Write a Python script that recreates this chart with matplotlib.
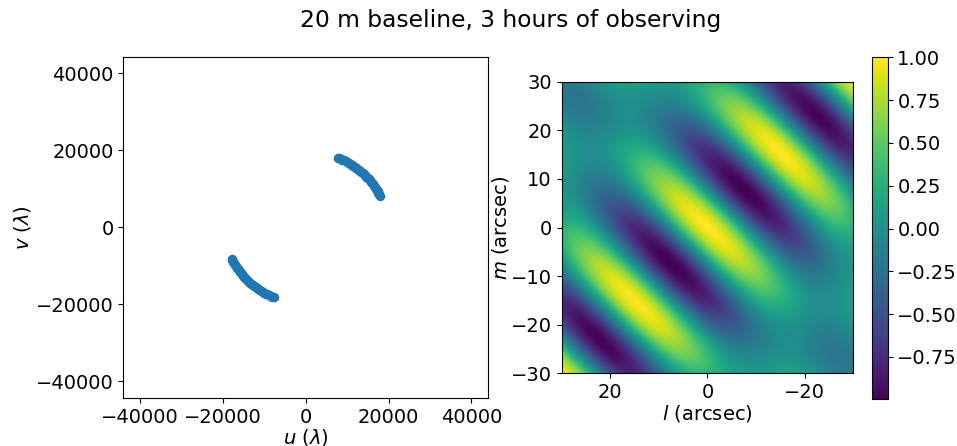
import numpy as np
import matplotlib
matplotlib.use("Agg")
import matplotlib.pyplot as plt

plt.rcParams['font.size'] = 14

# uv coverage (wavelengths)
u_upper = [7697, 8091, 8481, 8867, 9249, 9625, 9998, 10366, 10729, 11087, 11440, 11787,
           12129, 12464, 12793, 13118, 13435, 13747, 14052, 14349, 14639, 14925, 15201,
           15470, 15732, 15989, 16235, 16475, 16706, 16930, 17147, 17354, 17553, 17744, 17927]
v_upper = [18134, 17962, 17781, 17592, 17393, 17188, 16974, 16753, 16522, 16284, 16038,
           15786, 15524, 15256, 14980, 14696, 14409, 14111, 13808, 13498, 13181, 12858,
           12531, 12196, 11855, 11509, 11158, 10802, 10439, 10073, 9700, 9324, 8944, 8558, 8170]
u_lower = [-7697, -8091, -8481, -8867, -9249, -9625, -9998, -10366, -10729, -11087, -11440,
           -11787, -12129, -12464, -12793, -13118, -13435, -13747, -14052, -14349, -14639,
           -14925, -15201, -15470, -15732, -15989, -16235, -16475, -16706, -16930, -17147,
           -17354, -17553, -17744, -17927]
v_lower = [-18134, -17962, -17781, -17592, -17393, -17188, -16974, -16753, -16522, -16284,
           -16038, -15786, -15524, -15256, -14980, -14696, -14409, -14111, -13808, -13498,
           -13181, -12858, -12531, -12196, -11855, -11509, -11158, -10802, -10439, -10073,
           -9700, -9324, -8944, -8558, -8170]

uv_ticks = [-40000, -20000, 0, 20000, 40000]
l_ticks = [20, 0, -20]
m_ticks = [-30, -20, -10, 0, 10, 20, 30]
cb_ticks = [-0.75, -0.5, -0.25, 0.0, 0.25, 0.5, 0.75, 1.0]

u_all = np.array(u_upper + u_lower, dtype=float)
v_all = np.array(v_upper + v_lower, dtype=float)

fig = plt.figure(figsize=(9.57, 4.46), dpi=100)
ax1 = fig.add_axes([0.1288, 0.1076, 0.3814, 0.7652])
ax2 = fig.add_axes([0.5869, 0.163, 0.3047, 0.6538])
cax = fig.add_axes([0.9108, 0.1047, 0.0167, 0.7668])

ax1.scatter(u_all, v_all, s=34, color='#1f77b4')
ax1.set_xlim(-44100, 44100)
ax1.set_ylim(-44300, 44300)
ax1.set_xticks(uv_ticks)
ax1.set_yticks(uv_ticks)
ax1.set_xlabel(r'$u$ ($\lambda$)', labelpad=0)
ax1.set_ylabel(r'$v$ ($\lambda$)', labelpad=2)

# dirty beam from the uv points
n = 300
l_lab = np.linspace(30, -30, n)
m_lab = np.linspace(-30, 30, n)
L, M = np.meshgrid(l_lab, m_lab)
k = np.pi / 206265.0
phase = k * (np.multiply.outer(-L, u_all) + np.multiply.outer(M, v_all))
beam = np.cos(phase).mean(axis=-1)

im = ax2.imshow(beam, origin='lower', extent=[30, -30, -30, 30], cmap='viridis',
                aspect='equal', interpolation='bilinear')
ax2.set_xticks(l_ticks)
ax2.set_yticks(m_ticks)
ax2.set_xlabel(r'$l$ (arcsec)', labelpad=1)
ax2.set_ylabel(r'$m$ (arcsec)', labelpad=0)

cb = fig.colorbar(im, cax=cax)
cb.set_ticks(cb_ticks)

fig.text(0.534, 0.953, '20 m baseline, 3 hours of observing', ha='center', va='center',
         fontsize=16.8)

fig.savefig('out.png', dpi=100)
